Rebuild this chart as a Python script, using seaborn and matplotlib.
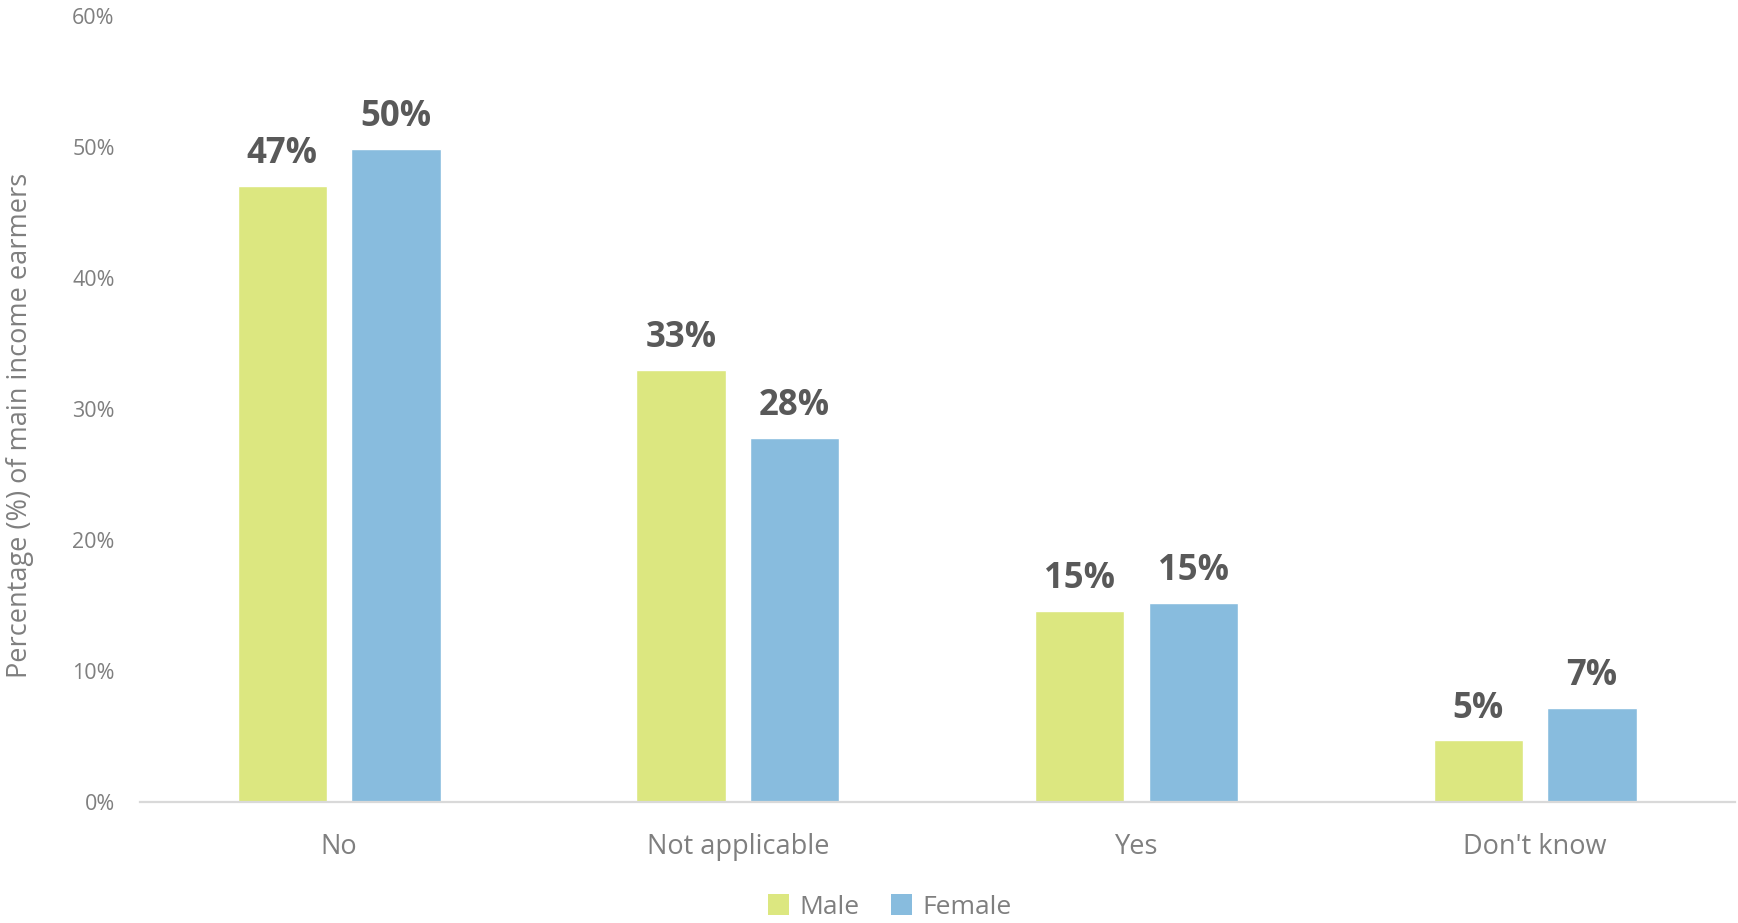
import matplotlib
matplotlib.use("Agg")
import matplotlib.pyplot as plt
import seaborn as sns
import pandas as pd
from matplotlib.patches import Patch

categories = ["No", "Not applicable", "Yes", "Don't know"]
male = [47.0, 33.0, 14.6, 4.7]
female = [49.8, 27.8, 15.2, 7.2]
series = ["Male", "Female"]
colors = {"Male": "#DCE780", "Female": "#88BCDE"}
yticks = [0, 10, 20, 30, 40, 50, 60]

df = pd.DataFrame({
    "category": categories * 2,
    "value": male + female,
    "sex": ["Male"] * len(categories) + ["Female"] * len(categories),
})

sns.set_theme(style="white")
plt.rcParams["font.family"] = ["Open Sans", "DejaVu Sans"]

fig = plt.figure(figsize=(17.38, 9.23), dpi=100)
ax = fig.add_axes([0.0804, 0.131, 0.9176, 0.852])

sns.barplot(data=df, x="category", y="value", hue="sex", order=categories,
            hue_order=series, palette=colors, width=0.57, gap=0.214,
            saturation=1, legend=False, ax=ax)

grey = "#7F7F7F"
ax.set_ylim(0, 60)
ax.set_xlim(-0.5, len(categories) - 0.5)
ax.set_yticks(yticks)
ax.set_yticklabels([f"{t}%" for t in yticks], color=grey, fontsize=15.5)
ax.tick_params(axis="y", length=0, pad=18)
ax.tick_params(axis="x", length=0, pad=22, labelsize=19.5, labelcolor=grey)
ax.set_xlabel("")
ax.set_ylabel("")
fig.text(20 / 1738, 1 - 425 / 923, "Percentage (%) of main income earmers",
         rotation=90, ha="center", va="center", color=grey, fontsize=19.5)

for side in ["top", "right", "left"]:
    ax.spines[side].set_visible(False)
ax.spines["bottom"].set_color("#D9D9D9")
ax.spines["bottom"].set_linewidth(1.6)

for cont in ax.containers:
    ax.bar_label(cont, labels=[f"{v:.0f}%" for v in cont.datavalues],
                 padding=10, fontsize=25, fontweight="bold", color="#595959")

handles = [Patch(facecolor=colors[s], edgecolor="none", label=s) for s in series]
fig.legend(handles=handles, loc="center", bbox_to_anchor=(0.512, 1 - 907 / 923),
           ncol=2, frameon=False, fontsize=19, labelcolor=grey,
           handlelength=0.8, handleheight=0.8, handletextpad=0.4,
           columnspacing=1.2)

fig.savefig("out.png", dpi=100)
